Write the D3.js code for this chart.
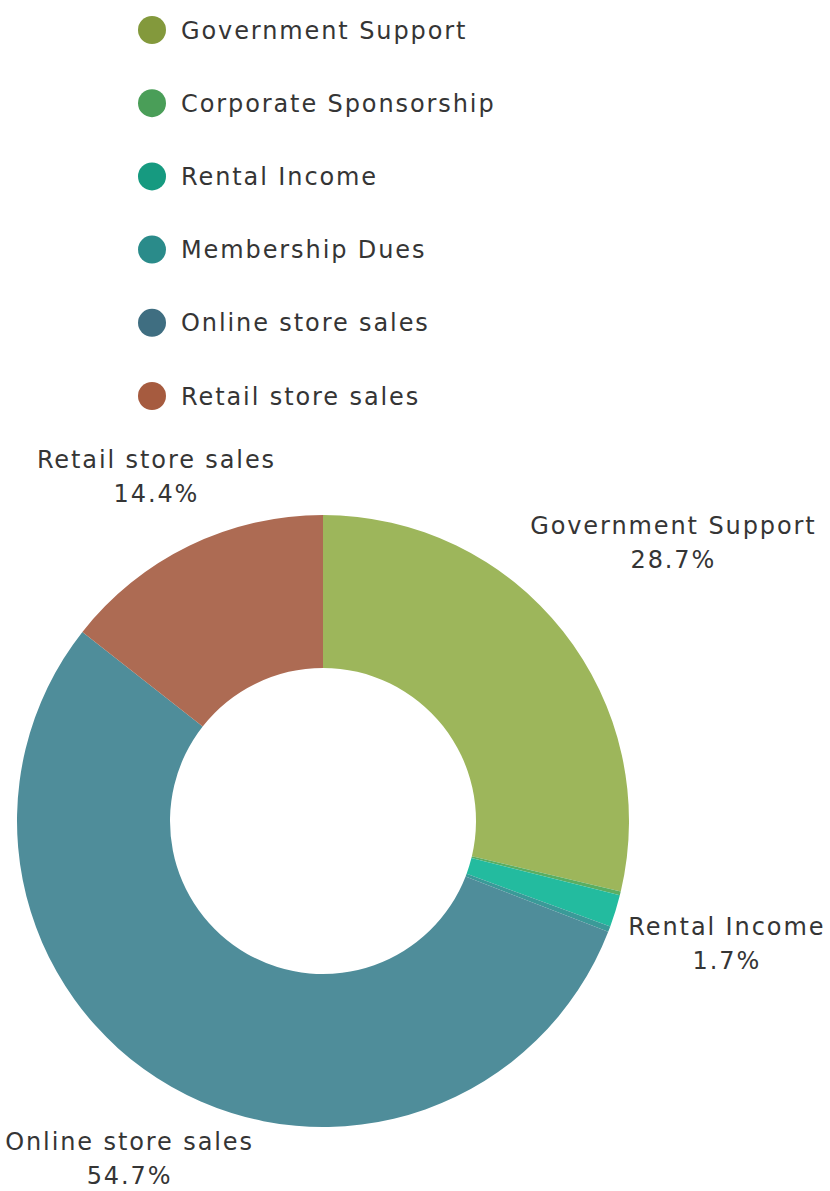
<!DOCTYPE html>
<html>
<head>
<meta charset="utf-8">
<script src="https://cdn.jsdelivr.net/npm/d3@7"></script>
<style>
  body { margin: 0; background: #fff; }
  text { font-family: "DejaVu Sans", sans-serif; fill: #353535; letter-spacing: 1.9px; }
</style>
</head>
<body>
<svg id="chart"></svg>
<script>
// revenue share data (percent)
let categories = [
  "Government Support",
  "Corporate Sponsorship",
  "Rental Income",
  "Membership Dues",
  "Online store sales",
  "Retail store sales",
];
let shares = [28.7, 0.2, 1.7, 0.3, 54.7, 14.4];

// legend dots are a bit darker than the slices
let legendColors = ["#83993c", "#4a9e58", "#169a80", "#2a8b8a", "#3f6e81", "#a65b3f"];
let sliceColors = ["#9db65b", "#5aae62", "#23bb9f", "#3a9a98", "#4f8d9a", "#ad6b53"];

let width = 830,
  height = 1191;
let cx = 323,
  cy = 821,
  outerR = 306,
  innerR = 153;

let svg = d3.select("#chart").attr("width", width).attr("height", height);

let data = categories.map((c, i) => ({ name: c, value: shares[i], i: i }));

// legend
let legend = svg
  .append("g")
  .selectAll("g")
  .data(data)
  .enter()
  .append("g")
  .attr("transform", (d, i) => "translate(152," + (30 + i * 73.2) + ")");
legend.append("circle").attr("r", 14).attr("fill", (d) => legendColors[d.i]);
legend
  .append("text")
  .attr("x", 29)
  .attr("dy", "0.36em")
  .attr("font-size", "24px")
  .text((d) => d.name);

// donut
let pie = d3.pie().sort(null).value((d) => d.value);
let arc = d3.arc().innerRadius(innerR).outerRadius(outerR);
let arcs = pie(data);

let g = svg.append("g").attr("transform", "translate(" + cx + "," + cy + ")");
g.selectAll("path")
  .data(arcs)
  .enter()
  .append("path")
  .attr("d", arc)
  .attr("fill", (d) => sliceColors[d.data.i]);

// labels for slices above 1%, centred on the mid-angle ray just outside the ring
let total = d3.sum(shares);
arcs
  .filter((d) => d.data.value / total > 0.01)
  .forEach((d) => {
    let a = (d.startAngle + d.endAngle) / 2;
    let lab = g.append("g");
    let t1 = lab
      .append("text")
      .attr("text-anchor", "middle")
      .attr("font-size", "24px")
      .attr("y", -19)
      .attr("dy", "0.36em")
      .text(d.data.name);
    let t2 = lab
      .append("text")
      .attr("text-anchor", "middle")
      .attr("font-size", "24px")
      .attr("y", 15)
      .attr("dy", "0.36em")
      .text(((d.data.value / total) * 100).toFixed(1) + "%");
    let hw = Math.max(t1.node().getComputedTextLength(), t2.node().getComputedTextLength()) / 2;
    let hh = 35;
    let dist = outerR + 1.23 * Math.hypot(hw * Math.sin(a), hh * Math.cos(a));
    lab.attr(
      "transform",
      "translate(" + (dist * Math.sin(a)) + "," + (-dist * Math.cos(a)) + ")"
    );
  });
</script>
</body>
</html>
